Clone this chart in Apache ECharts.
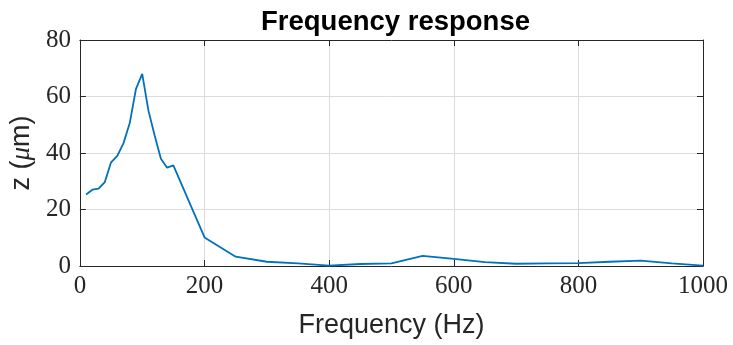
<!DOCTYPE html>
<html>
<head>
<meta charset="utf-8">
<script src="https://cdn.jsdelivr.net/npm/echarts@6/dist/echarts.min.js"></script>
<style>html,body{margin:0;padding:0;background:#fff}#c{width:733px;height:345px}</style>
</head>
<body>
<div id="c"></div>
<script>
const freqHz = [10,20,30,40,50,60,70,80,90,100,110,120,130,140,150,200,250,300,350,400,450,500,550,600,650,700,750,800,850,900,950,1000];
const zMicron = [25.3,27.0,27.4,29.7,36.7,39.0,43.5,50.6,62.7,68.0,55.0,46.2,38.0,34.8,35.6,10.1,3.3,1.5,0.9,0.1,0.7,0.9,3.6,2.5,1.4,0.8,0.9,1.0,1.5,1.9,0.9,0.1];
const xTicks = [0,200,400,600,800,1000];
const yTicks = [0,20,40,60,80];

const axisColor = '#262626';
const gridColor = '#dcdcdc';
const serif = 'Liberation Serif';
const sans = 'Liberation Sans';

const chart = echarts.init(document.getElementById('c'), null, {renderer:'canvas'});
const data = freqHz.map((f,i)=>[f, zMicron[i]]);

const baseX = {
  type:'value', min:xTicks[0], max:xTicks[xTicks.length-1], interval:xTicks[1]-xTicks[0]
};
const baseY = {
  type:'value', min:yTicks[0], max:yTicks[yTicks.length-1], interval:yTicks[1]-yTicks[0]
};
const line = {show:true, onZero:false, lineStyle:{color:axisColor, width:1}};
const tick = {show:true, inside:true, length:6, lineStyle:{color:axisColor}};

chart.setOption({
  animation:false,
  title:{
    text:'Frequency response', left:390.5, textAlign:'center', top:3,
    textStyle:{fontFamily:sans, fontWeight:'bold', fontSize:27.5, color:'#000'}
  },
  grid:{left:78, right:30, top:40, bottom:79},
  xAxis:[
    Object.assign({}, baseX, {
      position:'bottom',
      name:'Frequency (Hz)', nameLocation:'middle', nameGap:46,
      nameTextStyle:{fontFamily:sans, fontSize:27, color:axisColor},
      axisLine:line, axisTick:tick,
      axisLabel:{fontFamily:serif, fontSize:25, color:axisColor, margin:8, formatter:v=>String(v)},
      splitLine:{show:true, lineStyle:{color:gridColor, width:1}}
    }),
    Object.assign({}, baseX, {
      position:'top',
      axisLine:line, axisTick:tick,
      axisLabel:{show:false},
      splitLine:{show:false}
    })
  ],
  yAxis:[
    Object.assign({}, baseY, {
      position:'left',
      name:'{s|z (}{m|μ}{s|m)}', nameLocation:'middle', nameGap:36,
      nameTextStyle:{fontFamily:sans, fontSize:27, color:axisColor,
        rich:{s:{fontFamily:sans, fontSize:27, color:axisColor},
              m:{fontFamily:serif, fontStyle:'italic', fontSize:27, color:axisColor}}},
      axisLine:line, axisTick:tick,
      axisLabel:{fontFamily:serif, fontSize:25, color:axisColor, margin:9, formatter:v=>String(v)},
      splitLine:{show:true, lineStyle:{color:gridColor, width:1}}
    }),
    Object.assign({}, baseY, {
      position:'right',
      axisLine:line, axisTick:tick,
      axisLabel:{show:false},
      splitLine:{show:false}
    })
  ],
  series:[{
    type:'line', data:data, xAxisIndex:0, yAxisIndex:0,
    showSymbol:false, symbol:'none',
    lineStyle:{color:'#0072BD', width:1.8}
  }]
});
</script>
</body>
</html>
